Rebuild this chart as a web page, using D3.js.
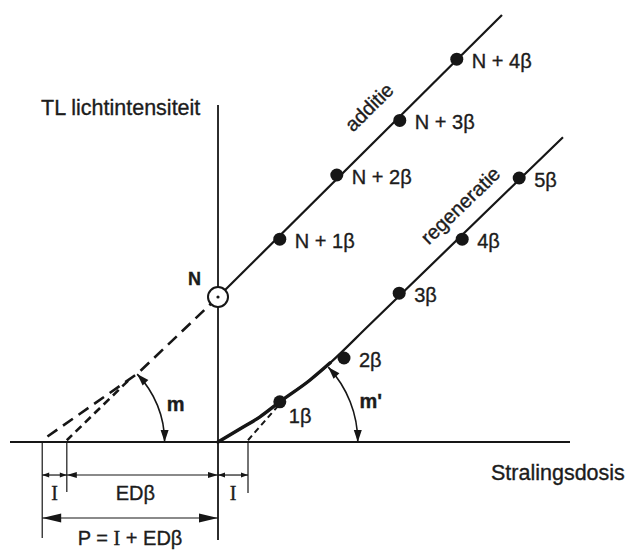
<!DOCTYPE html>
<html><head><meta charset="utf-8">
<script src="https://cdn.jsdelivr.net/npm/d3@7"></script>
<style>
html,body{margin:0;padding:0;background:#fff;}
svg{display:block;}
text{font-family:"Liberation Sans",Arial,Helvetica,sans-serif;fill:#1c1c1c;stroke:#1c1c1c;stroke-width:0.35px;}
.serif{font-family:"Liberation Serif","Times New Roman",serif;}
</style></head><body>
<svg id="chart" width="628" height="553"></svg>
<script>
// ---------------- data (dose in units of β, TL in arbitrary units) ----------------
const doseExtent = [-3.467, 5.867];
const tlExtent = [-1.633, 5.617];

const naturalLabel = "N";
const naturalDose = 0;
const naturalTL = 2.417;

const additionLabels = ["N + 1β", "N + 2β", "N + 3β", "N + 4β"];
const additionDose = [1.03, 1.98, 3.03, 3.98];
const additionTL = [3.38, 4.45, 5.36, 6.38];

const regenLabels = ["1β", "2β", "3β", "4β", "5β"];
const regenDose = [1.03, 2.10, 3.02, 4.07, 5.02];
const regenTL = [0.67, 1.40, 2.48, 3.38, 4.40];

const additionFitDose = [0, 4.733];
const additionFitTL = [2.417, 7.117];

const additionExtrapDose = [0, -1.33, -2.93];
const additionExtrapTL = [2.417, 1.15, 0.03];

const supraExtrapDose = [-1.50, -2.52];
const supraExtrapTL = [1.02, 0.03];

const regenCurveDose = [0, 0.42, 0.70, 1.03, 1.53, 1.87, 2.50, 5.75];
const regenCurveTL = [0, 0.25, 0.42, 0.67, 1.03, 1.32, 1.93, 5.08];

const regenExtrapDose = [0.50, 1.00];
const regenExtrapTL = [0.03, 0.60];

// bracket doses: P = I + ED
const pDose = -2.93;
const edDose = -2.52;
const iDose = 0.50;

// slope-angle arcs
const arcLabels = ["m", "m'"];
const arcCenterDose = [edDose, iDose];
const arcRadius = [1.63, 1.83];
const arcAngleDeg = [44, 43];

// curve names along the lines
const curveNames = ["additie", "regeneratie"];
const curveNameDose = [2.60, 4.12];
const curveNameTL = [5.50, 3.86];
const curveNameAngle = [-44.5, -44];

const axisTitleY = "TL lichtintensiteit";
const axisTitleX = "Stralingsdosis";

// ---------------- drawing ----------------
const svg = d3.select("#chart");
const ink = "#161616";
const x = d3.scaleLinear().domain(doseExtent).range([10, 570]);
const y = d3.scaleLinear().domain(tlExtent).range([540, 105]);
const line = d3.line().x(d => x(d[0])).y(d => y(d[1]));
const curve = d3.line().x(d => x(d[0])).y(d => y(d[1])).curve(d3.curveMonotoneX);
const zip = (a, b) => a.map((v, i) => [v, b[i]]);

const y0 = y(0);

// axes
svg.append("line").attr("x1", x(doseExtent[0])).attr("x2", x(doseExtent[1]))
  .attr("y1", y0).attr("y2", y0).attr("stroke", ink).attr("stroke-width", 2);
svg.append("line").attr("x1", x(0)).attr("x2", x(0))
  .attr("y1", y(tlExtent[0])).attr("y2", y(tlExtent[1])).attr("stroke", ink).attr("stroke-width", 1.8);

svg.append("text").attr("x", 41).attr("y", 115).attr("font-size", 21.5).text(axisTitleY);
svg.append("text").attr("x", 491).attr("y", 480).attr("font-size", 21.5).text(axisTitleX);

// addition fit line
svg.append("path").datum(zip(additionFitDose, additionFitTL)).attr("d", line)
  .attr("fill", "none").attr("stroke", ink).attr("stroke-width", 2.2);
// extrapolations
svg.append("path").datum(zip(additionExtrapDose, additionExtrapTL)).attr("d", line)
  .attr("fill", "none").attr("stroke", ink).attr("stroke-width", 2.6).attr("stroke-dasharray", "12,7");
svg.append("path").datum(zip(supraExtrapDose, supraExtrapTL)).attr("d", line)
  .attr("fill", "none").attr("stroke", ink).attr("stroke-width", 2.6).attr("stroke-dasharray", "8,5");
svg.append("path").datum(zip(regenExtrapDose, regenExtrapTL)).attr("d", line)
  .attr("fill", "none").attr("stroke", ink).attr("stroke-width", 2).attr("stroke-dasharray", "6,4");

// regeneration curve (thin overall, thick supralinear part)
const regenPts = zip(regenCurveDose, regenCurveTL);
svg.append("path").datum(regenPts).attr("d", curve)
  .attr("fill", "none").attr("stroke", ink).attr("stroke-width", 2.2);
svg.append("path").datum(regenPts.filter(p => p[0] <= 1.87)).attr("d", curve)
  .attr("fill", "none").attr("stroke", ink).attr("stroke-width", 3.4).attr("stroke-linecap", "round");

// dots
const addPts = additionLabels.map((l, i) => ({label: l, d: additionDose[i], v: additionTL[i]}));
const regPts = regenLabels.map((l, i) => ({label: l, d: regenDose[i], v: regenTL[i]}));
svg.selectAll(".dotA").data(addPts.concat(regPts)).enter().append("circle")
  .attr("cx", d => x(d.d)).attr("cy", d => y(d.v)).attr("r", 6.5).attr("fill", ink);
svg.selectAll(".lblA").data(addPts.concat(regPts)).enter().append("text")
  .attr("x", d => x(d.d) + (d.label === "1β" ? 9 : 15))
  .attr("y", d => y(d.v) + (d.label === "1β" ? 21 : 9))
  .attr("font-size", 20).text(d => d.label);

// natural signal N
svg.append("circle").attr("cx", x(naturalDose)).attr("cy", y(naturalTL)).attr("r", 10)
  .attr("fill", "#fff").attr("stroke", ink).attr("stroke-width", 2);
svg.append("circle").attr("cx", x(naturalDose)).attr("cy", y(naturalTL)).attr("r", 1.6).attr("fill", ink);
svg.append("text").attr("x", x(naturalDose) - 30).attr("y", y(naturalTL) - 12)
  .attr("font-size", 18).attr("font-weight", "bold").text(naturalLabel);

// curve names
curveNames.forEach((n, i) => {
  svg.append("text").attr("font-size", 20).attr("text-anchor", "middle")
    .attr("transform", `translate(${x(curveNameDose[i])},${y(curveNameTL[i])}) rotate(${curveNameAngle[i]})`)
    .text(n);
});

// arrowhead helper
function head(tx, ty, ang, len, hw) {
  const bx = tx - len * Math.cos(ang), by = ty - len * Math.sin(ang);
  const px = -Math.sin(ang) * hw, py = Math.cos(ang) * hw;
  svg.append("path").attr("d", `M${tx},${ty}L${bx + px},${by + py}L${bx - px},${by - py}Z`).attr("fill", ink);
}

// slope arcs
arcLabels.forEach((lab, i) => {
  const cx = x(arcCenterDose[i]), cy = y0;
  const r = x(arcCenterDose[i] + arcRadius[i]) - cx;
  const a = arcAngleDeg[i] * Math.PI / 180;
  const ex = cx + r * Math.cos(a), ey = cy - r * Math.sin(a);
  svg.append("path").attr("d", `M${cx + r},${cy} A${r},${r} 0 0 0 ${ex},${ey}`)
    .attr("fill", "none").attr("stroke", ink).attr("stroke-width", 1.6);
  head(cx + r, cy, Math.PI / 2, 12, 4);
  head(ex, ey, Math.atan2(-Math.cos(a), -Math.sin(a)), 12, 4);
  const mid = a * 0.45;
  svg.append("text").attr("x", cx + r * Math.cos(mid) + 8).attr("y", cy - r * Math.sin(mid) + 2)
    .attr("font-size", 20).attr("font-weight", "bold").text(lab);
});

// dose brackets
const row1 = y0 + 33, row2 = y0 + 76;
const tick = (d, bottom) => svg.append("line").attr("x1", x(d)).attr("x2", x(d))
  .attr("y1", y0).attr("y2", bottom).attr("stroke", ink).attr("stroke-width", 1.2);
tick(pDose, y0 + 96);
tick(edDose, y0 + 50);
tick(iDose, y0 + 51);

function dimArrow(d1, d2, yy, len, hw) {
  svg.append("line").attr("x1", x(d1)).attr("x2", x(d2)).attr("y1", yy).attr("y2", yy)
    .attr("stroke", ink).attr("stroke-width", 1.2);
  head(x(d1), yy, Math.PI, len, hw);
  head(x(d2), yy, 0, len, hw);
}
dimArrow(pDose, edDose, row1, 7, 2.5);
dimArrow(edDose, 0, row1, 10, 3);
dimArrow(0, iDose, row1, 7, 2.5);
dimArrow(pDose, 0, row2, 19, 4.5);

svg.append("text").attr("class", "serif").attr("x", (x(pDose) + x(edDose)) / 2).attr("y", row1 + 25)
  .attr("text-anchor", "middle").attr("font-size", 20).text("I");
svg.append("text").attr("x", (x(edDose) + x(0)) / 2 - 7).attr("y", row1 + 25)
  .attr("text-anchor", "middle").attr("font-size", 20).text("EDβ");
svg.append("text").attr("class", "serif").attr("x", (x(0) + x(iDose)) / 2).attr("y", row1 + 25)
  .attr("text-anchor", "middle").attr("font-size", 20).text("I");
const pt = svg.append("text").attr("x", (x(pDose) + x(0)) / 2).attr("y", row2 + 27)
  .attr("text-anchor", "middle").attr("font-size", 20);
pt.append("tspan").text("P = ");
pt.append("tspan").attr("class", "serif").text("I");
pt.append("tspan").text(" + EDβ");
</script></body></html>
